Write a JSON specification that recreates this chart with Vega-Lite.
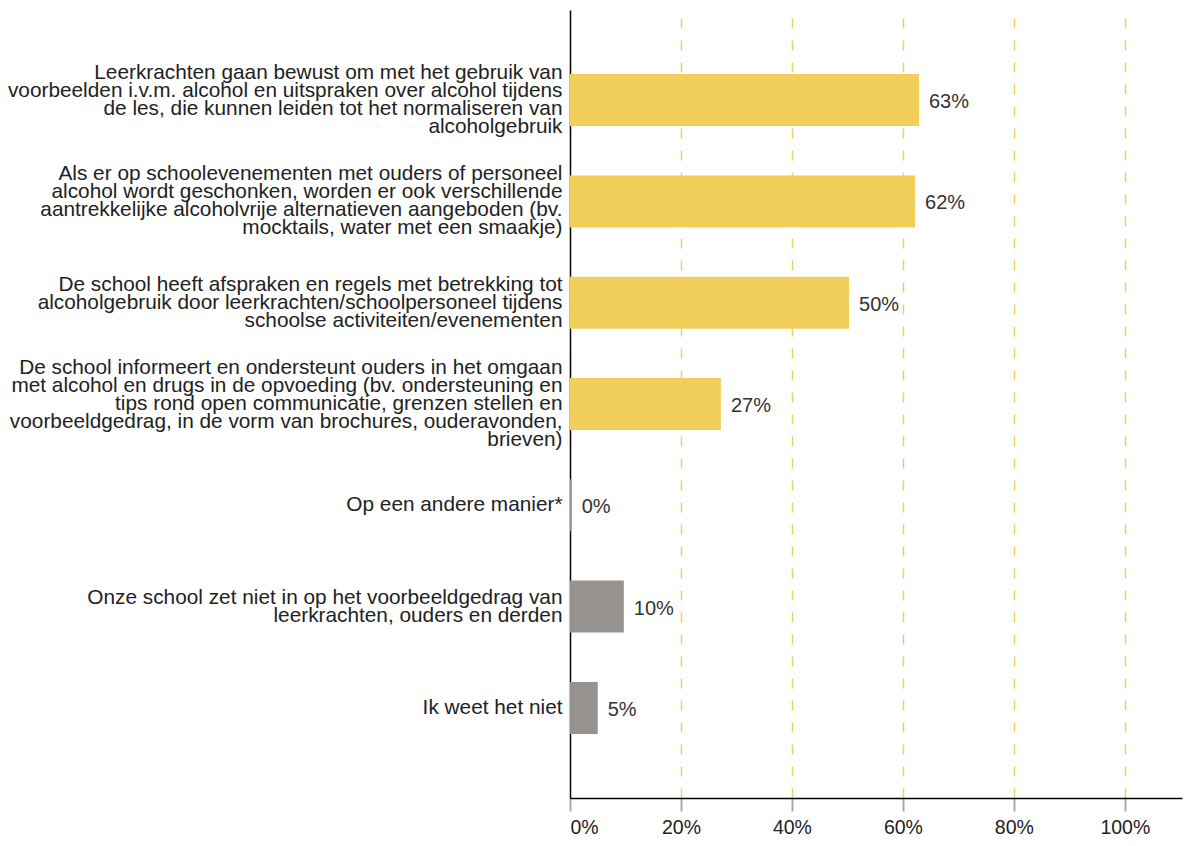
{
  "$schema": "https://vega.github.io/schema/vega-lite/v6.json",
  "autosize": "none",
  "width": 612,
  "height": 788,
  "padding": {"left": 570, "top": 10, "right": 2, "bottom": 48},
  "background": "white",
  "config": {
    "view": {"stroke": null},
    "font": "Liberation Sans"
  },
  "data": {
    "values": [
      {"item": "Leerkrachten gaan bewust om met het gebruik van|voorbeelden i.v.m. alcohol en uitspraken over alcohol tijdens|de les, die kunnen leiden tot het normaliseren van|alcoholgebruik", "pct": 62.9, "label": "63%", "type": "maatregel"},
      {"item": "Als er op schoolevenementen met ouders of personeel|alcohol wordt geschonken, worden er ook verschillende|aantrekkelijke alcoholvrije alternatieven aangeboden (bv.|mocktails, water met een smaakje)", "pct": 62.2, "label": "62%", "type": "maatregel"},
      {"item": "De school heeft afspraken en regels met betrekking tot|alcoholgebruik door leerkrachten/schoolpersoneel tijdens|schoolse activiteiten/evenementen", "pct": 50.3, "label": "50%", "type": "maatregel"},
      {"item": "De school informeert en ondersteunt ouders in het omgaan|met alcohol en drugs in de opvoeding (bv. ondersteuning en|tips rond open communicatie, grenzen stellen en|voorbeeldgedrag, in de vorm van brochures, ouderavonden,|brieven)", "pct": 27.2, "label": "27%", "type": "maatregel"},
      {"item": "Op een andere manier*", "pct": 0.3, "label": "0%", "type": "ander"},
      {"item": "Onze school zet niet in op het voorbeeldgedrag van|leerkrachten, ouders en derden", "pct": 9.7, "label": "10%", "type": "ander"},
      {"item": "Ik weet het niet", "pct": 5.0, "label": "5%", "type": "ander"}
    ]
  },
  "encoding": {
    "y": {
      "field": "item",
      "type": "nominal",
      "sort": null,
      "scale": {"paddingInner": 0.487, "paddingOuter": 0.633},
      "axis": {
        "title": null,
        "labelExpr": "split(datum.label, '|')",
        "labelFont": "Liberation Sans",
        "labelFontSize": 20.8,
        "labelLineHeight": 18,
        "labelColor": "#222222",
        "labelLimit": 0,
        "labelPadding": 8,
        "labelOffset": {
          "condition": [
            {"test": "length(split(datum.label, '|')) == 5", "value": -36},
            {"test": "length(split(datum.label, '|')) == 4", "value": -27},
            {"test": "length(split(datum.label, '|')) == 3", "value": -18},
            {"test": "length(split(datum.label, '|')) == 2", "value": -9}
          ],
          "value": 0
        },
        "ticks": false,
        "domainColor": "#000000",
        "domainWidth": 1.5,
        "grid": false
      }
    },
    "x": {
      "field": "pct",
      "type": "quantitative",
      "scale": {"domain": [0, 110.3], "nice": false},
      "axis": {
        "title": null,
        "values": [0, 20, 40, 60, 80, 100],
        "labelExpr": "datum.value + '%'",
        "labelFont": "Liberation Sans",
        "labelFontSize": 19.5,
        "labelColor": "#222222",
        "labelPadding": 7,
        "tickColor": "#aaaaaa",
        "tickSize": 13,
        "tickWidth": 2,
        "domainColor": "#000000",
        "domainWidth": 1.5,
        "grid": true,
        "gridColor": "#F2CF5B",
        "gridDash": [10, 12],
        "gridWidth": 1.5,
        "gridOpacity": {"condition": {"test": "datum.value === 0", "value": 0}, "value": 1}
      }
    }
  },
  "layer": [
    {
      "mark": {"type": "bar"},
      "encoding": {
        "color": {
          "field": "type",
          "type": "nominal",
          "scale": {"domain": ["maatregel", "ander"], "range": ["#F2CF5B", "#979391"]},
          "legend": null
        }
      }
    },
    {
      "mark": {"type": "text", "align": "left", "baseline": "middle", "dx": 10, "dy": 2, "fontSize": 20, "font": "Liberation Sans", "color": "#333333"},
      "encoding": {
        "text": {"field": "label"}
      }
    }
  ]
}
